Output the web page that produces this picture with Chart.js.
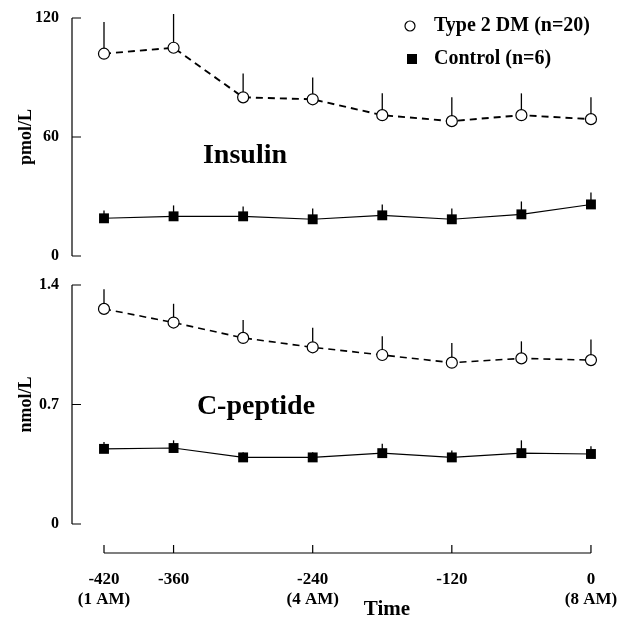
<!DOCTYPE html>
<html>
<head>
<meta charset="utf-8">
<title>Insulin and C-peptide overnight</title>
<script src="https://cdn.jsdelivr.net/npm/chart.js@4.4.0/dist/chart.umd.min.js"></script>
<style>
  body { margin: 0; background: #fff; }
  canvas { display: block; }
</style>
</head>
<body>
<canvas id="miGrafico" width="617" height="618"></canvas>
<script>
// minutes before 8 AM
const tiempos = [-420, -360, -300, -240, -180, -120, -60, 0];
const xTicks = [-420, -360, -240, -120, 0];
const xHoras = {'-420': '(1 AM)', '-240': '(4 AM)', '0': '(8 AM)'};
const insTicks = [0, 60, 120];
const pepTicks = [0, 0.7, 1.4];

// insulin, pmol/L (mean and upper SEM)
const insulinaDM = [102, 105, 80, 79, 71, 68, 71, 69];
const insulinaDMErr = [16, 17, 12, 11, 11, 12, 11, 11];
const insulinaCtrl = [19, 20, 20, 18.5, 20.5, 18.5, 21, 26];
const insulinaCtrlErr = [4, 5.5, 5, 5.5, 5.5, 5.5, 6.5, 6];

// C-peptide, nmol/L
const peptidoDM = [1.26, 1.18, 1.09, 1.035, 0.99, 0.945, 0.97, 0.96];
const peptidoDMErr = [0.115, 0.11, 0.105, 0.115, 0.11, 0.115, 0.10, 0.12];
const peptidoCtrl = [0.44, 0.445, 0.39, 0.39, 0.415, 0.39, 0.415, 0.41];
const peptidoCtrlErr = [0.04, 0.045, 0.03, 0.03, 0.055, 0.04, 0.075, 0.045];

const FUENTE = '"Liberation Serif", "Times New Roman", serif';

function puntos(valores) {
    return tiempos.map((t, i) => ({x: t, y: valores[i]}));
}

function serieDM(valores, errores, eje, ancho) {
    return {
        label: 'Type 2 DM (n=20)',
        data: puntos(valores),
        errores: errores,
        yAxisID: eje,
        borderColor: '#000',
        borderWidth: ancho,
        borderDash: [7, 5],
        borderCapStyle: 'butt',
        pointStyle: 'circle',
        pointRadius: 5.5,
        pointBackgroundColor: '#fff',
        pointBorderColor: '#000',
        pointBorderWidth: 1.2,
        tension: 0,
        clip: false
    };
}

function serieCtrl(valores, errores, eje) {
    return {
        label: 'Control (n=6)',
        data: puntos(valores),
        errores: errores,
        yAxisID: eje,
        borderColor: '#000',
        borderWidth: 1.1,
        pointStyle: 'rect',
        pointRadius: 7,
        pointBackgroundColor: '#000',
        pointBorderColor: '#000',
        pointBorderWidth: 0,
        tension: 0,
        clip: false
    };
}

function texto(ctx, str, x, y, size, align) {
    ctx.font = 'bold ' + size + 'px ' + FUENTE;
    ctx.textAlign = align || 'center';
    ctx.textBaseline = 'middle';
    ctx.fillText(str, x, y);
}

function ejeY(ctx, escala, ticks, titulo, x) {
    const arriba = escala.getPixelForValue(ticks[ticks.length - 1]);
    const abajo = escala.getPixelForValue(ticks[0]);
    ctx.beginPath();
    ctx.moveTo(x, arriba);
    ctx.lineTo(x, abajo);
    ticks.forEach(t => {
        const py = escala.getPixelForValue(t);
        ctx.moveTo(x, py);
        ctx.lineTo(x + 9, py);
    });
    ctx.stroke();
    ticks.forEach(t => texto(ctx, String(t), x - 13, escala.getPixelForValue(t), 16, 'right'));
    ctx.save();
    ctx.translate(26, (arriba + abajo) / 2);
    ctx.rotate(-Math.PI / 2);
    texto(ctx, titulo, 0, 0, 18);
    ctx.restore();
}

const ejes = {
    id: 'ejes',
    beforeDatasetsDraw(chart) {
        // error bars, upper side only
        const ctx = chart.ctx;
        const x = chart.scales.x;
        ctx.save();
        ctx.strokeStyle = '#000';
        ctx.lineWidth = 1.3;
        chart.data.datasets.forEach(ds => {
            const y = chart.scales[ds.yAxisID];
            ds.data.forEach((p, i) => {
                const px = x.getPixelForValue(p.x);
                ctx.beginPath();
                ctx.moveTo(px, y.getPixelForValue(p.y));
                ctx.lineTo(px, y.getPixelForValue(p.y + ds.errores[i]));
                ctx.stroke();
            });
        });
        ctx.restore();
    },
    afterDraw(chart) {
        const ctx = chart.ctx;
        const x = chart.scales.x;
        const area = chart.chartArea;
        ctx.save();
        ctx.strokeStyle = '#000';
        ctx.fillStyle = '#000';
        ctx.lineWidth = 1.2;

        ejeY(ctx, chart.scales.yIns, insTicks, 'pmol/L', area.left);
        ejeY(ctx, chart.scales.yPep, pepTicks, 'nmol/L', area.left);

        // time axis
        const yx = area.bottom;
        ctx.beginPath();
        ctx.moveTo(x.getPixelForValue(xTicks[0]), yx);
        ctx.lineTo(x.getPixelForValue(xTicks[xTicks.length - 1]), yx);
        xTicks.forEach(t => {
            const px = x.getPixelForValue(t);
            ctx.moveTo(px, yx);
            ctx.lineTo(px, yx - 8);
        });
        ctx.stroke();
        xTicks.forEach(t => {
            const px = x.getPixelForValue(t);
            texto(ctx, String(t), px, yx + 27, 17);
            if (xHoras[t]) texto(ctx, xHoras[t], px, yx + 47, 17);
        });
        texto(ctx, 'Time', 387, yx + 57, 21);

        // panel names
        texto(ctx, 'Insulin', 245, 156, 28);
        texto(ctx, 'C-peptide', 256, 407, 28);

        // legend
        ctx.lineWidth = 1.2;
        ctx.beginPath();
        ctx.arc(410, 26, 5, 0, Math.PI * 2);
        ctx.stroke();
        ctx.fillRect(407, 54, 10, 10);
        texto(ctx, 'Type 2 DM (n=20)', 434, 26, 20, 'left');
        texto(ctx, 'Control (n=6)', 434, 59, 20, 'left');
        ctx.restore();
    }
};

let grafico = new Chart(document.getElementById('miGrafico'), {
    type: 'line',
    data: {
        datasets: [
            serieDM(insulinaDM, insulinaDMErr, 'yIns', 1.9),
            serieCtrl(insulinaCtrl, insulinaCtrlErr, 'yIns'),
            serieDM(peptidoDM, peptidoDMErr, 'yPep', 1.6),
            serieCtrl(peptidoCtrl, peptidoCtrlErr, 'yPep')
        ]
    },
    options: {
        responsive: false,
        animation: false,
        devicePixelRatio: 1,
        layout: {padding: {left: 72, right: 17, top: 10, bottom: 65}},
        plugins: {
            legend: {display: false},
            tooltip: {enabled: false}
        },
        scales: {
            x: {type: 'linear', min: -447.6, max: 7.8, display: false},
            yIns: {type: 'linear', min: -149.75, max: 124.03, display: false},
            yPep: {type: 'linear', min: -0.17, max: 3.011, display: false}
        }
    },
    plugins: [ejes]
});
</script>
</body>
</html>
